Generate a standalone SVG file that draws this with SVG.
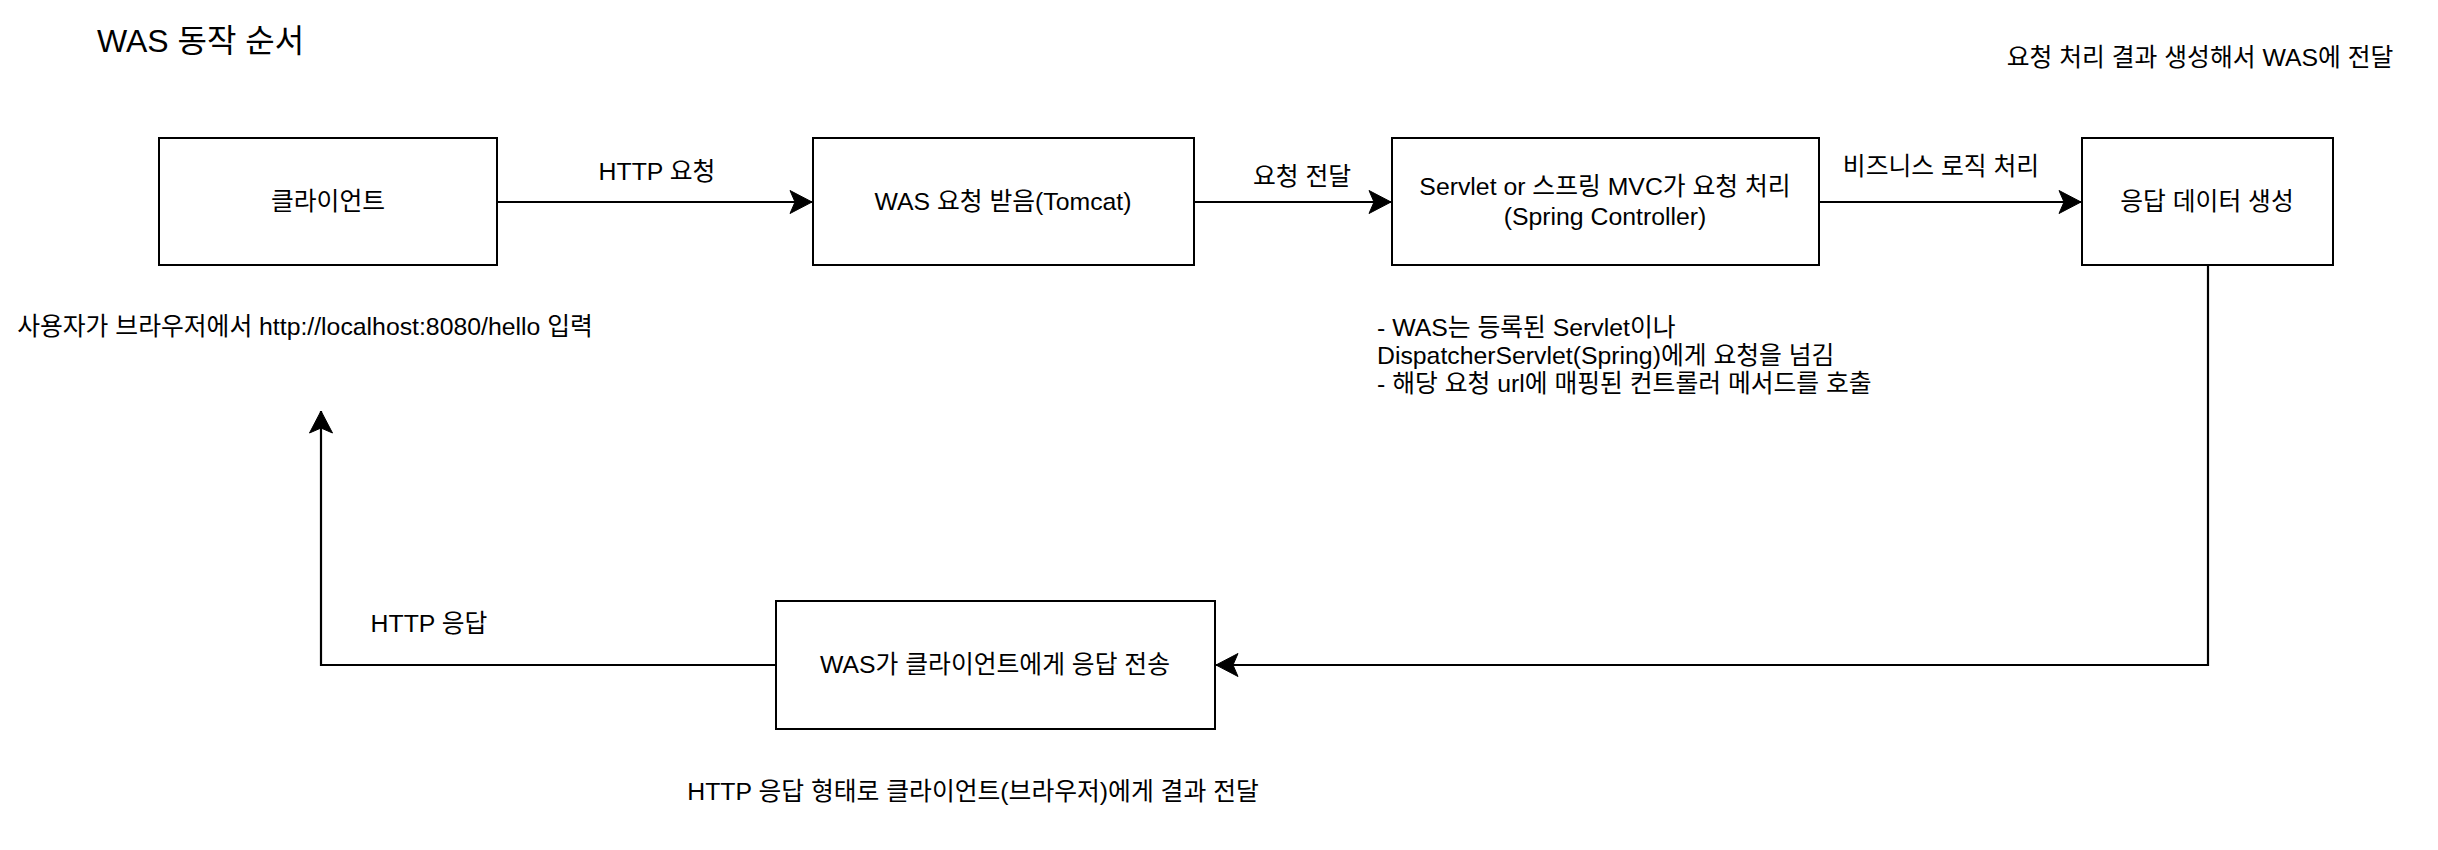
<svg xmlns="http://www.w3.org/2000/svg" width="2438" height="850" viewBox="0 0 2438 850">
<style>
text{font-family:"Liberation Sans","Noto Sans CJK KR",sans-serif;font-size:24.8px;fill:#000}
.c{text-anchor:middle}
.box{fill:#fff;stroke:#000;stroke-width:2}
.ln{fill:none;stroke:#000;stroke-width:2.2}
</style>
<defs>
<marker id="arr" markerUnits="userSpaceOnUse" markerWidth="26" markerHeight="26" viewBox="-24 -13 26 26" refX="0" refY="0" orient="auto">
<path d="M0,0 L-22,-11.5 L-17,0 L-22,11.5 Z" fill="#000" stroke="#000" stroke-width="1"/>
</marker>
</defs>
<rect width="2438" height="850" fill="#fff"/>
<text id="title" x="97" y="52" style="font-size:32px">WAS 동작 순서</text>
<g id="connectors">
<path class="ln" d="M497,202 L812,202" marker-end="url(#arr)"/>
<path class="ln" d="M1194,202 L1391,202" marker-end="url(#arr)"/>
<path class="ln" d="M1819,202 L2081,202" marker-end="url(#arr)"/>
<path class="ln" d="M2208,265 L2208,665 L1216,665" marker-end="url(#arr)"/>
<path class="ln" d="M776,665 L321,665 L321,411" marker-end="url(#arr)"/>
<text class="c" x="657" y="180">HTTP 요청</text>
<text class="c" x="1302" y="185">요청 전달</text>
<text class="c" x="1941" y="175">비즈니스 로직 처리</text>
<text class="c" x="429" y="632">HTTP 응답</text>
</g>
<g id="client">
<rect class="box" x="159" y="138" width="338" height="127"/>
<text class="c" x="328" y="210">클라이언트</text>
</g>
<g id="was-receive">
<rect class="box" x="813" y="138" width="381" height="127"/>
<text class="c" x="1003" y="210">WAS 요청 받음(Tomcat)</text>
</g>
<g id="servlet">
<rect class="box" x="1392" y="138" width="427" height="127"/>
<text class="c" x="1605" y="195">Servlet or 스프링 MVC가 요청 처리</text>
<text class="c" x="1605" y="225">(Spring Controller)</text>
</g>
<g id="response-data">
<rect class="box" x="2082" y="138" width="251" height="127"/>
<text class="c" x="2207" y="210">응답 데이터 생성</text>
</g>
<g id="was-send">
<rect class="box" x="776" y="601" width="439" height="128"/>
<text class="c" x="995" y="673">WAS가 클라이언트에게 응답 전송</text>
</g>
<g id="note-client">
<text class="c" x="305" y="335">사용자가 브라우저에서 http://localhost:8080/hello 입력</text>
</g>
<g id="note-servlet">
<text x="1377" y="336">- WAS는 등록된 Servlet이나</text>
<text x="1377" y="364">DispatcherServlet(Spring)에게 요청을 넘김</text>
<text x="1377" y="392">- 해당 요청 url에 매핑된 컨트롤러 메서드를 호출</text>
</g>
<g id="note-result">
<text class="c" x="2200" y="66">요청 처리 결과 생성해서 WAS에 전달</text>
</g>
<g id="note-response">
<text class="c" x="973" y="800">HTTP 응답 형태로 클라이언트(브라우저)에게 결과 전달</text>
</g>
</svg>
